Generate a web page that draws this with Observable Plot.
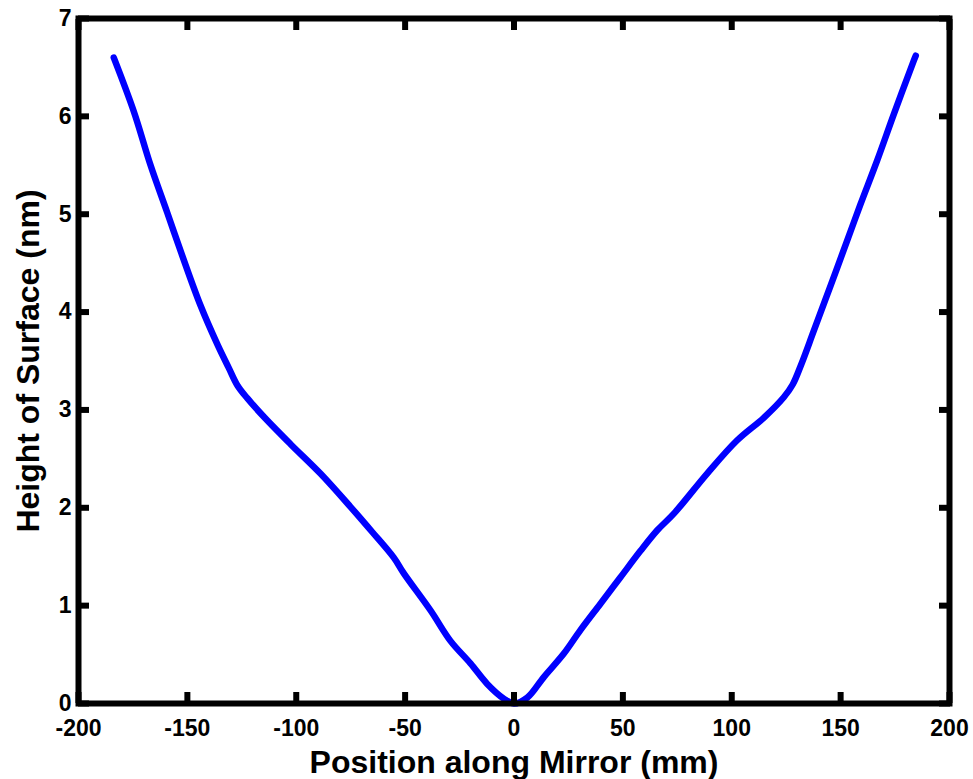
<!DOCTYPE html>
<html>
<head>
<meta charset="utf-8">
<script src="https://cdn.jsdelivr.net/npm/d3@7"></script>
<script src="https://cdn.jsdelivr.net/npm/@observablehq/plot@0.6"></script>
<style>
  html, body { margin: 0; padding: 0; background: #fff; }
  #chart svg { display: block; }
</style>
</head>
<body>
<div id="chart"></div>
<script>
// Position along mirror (mm)
const positions = [
  -183.8, -174.6, -166.9, -159.3, -152.4, -144.0, -136.0, -131.0, -127.0, -122.5, -114.9,
  -102.6, -88.9, -75.1, -65.0, -55.2, -50.6, -38.3, -29.2, -20.0, -12.3,
  -4.7, 0.0, 6.1, 13.7, 22.9, 30.5, 39.7, 48.9, 58.1, 65.8,
  73.4, 88.7, 102.5, 114.7, 123.9, 128.0, 132.0, 137.7, 145.4, 153.0, 159.1,
  166.8, 174.4, 183.6, 184.5
];
// Height of surface (nm)
const heights = [
  6.60, 6.05, 5.50, 5.02, 4.58, 4.07, 3.66, 3.43, 3.25, 3.12, 2.93,
  2.65, 2.35, 2.01, 1.75, 1.49, 1.33, 0.95, 0.64, 0.41, 0.20,
  0.05, 0.00, 0.06, 0.27, 0.51, 0.75, 1.02, 1.29, 1.56, 1.77,
  1.94, 2.35, 2.69, 2.92, 3.13, 3.26, 3.47, 3.81, 4.27, 4.73, 5.10,
  5.55, 6.02, 6.57, 6.62
];
const xTicks = [-200, -150, -100, -50, 0, 50, 100, 150, 200];
const xTickLabels = ["-200", "-150", "-100", "-50", "0", "50", "100", "150", "200"];
const yTicks = [0, 1, 2, 3, 4, 5, 6, 7];
const yTickLabels = ["0", "1", "2", "3", "4", "5", "6", "7"];
const xTitle = "Position along Mirror (mm)";
const yTitle = "Height of Surface (nm)";

const data = positions.map((x, i) => ({x, y: heights[i]}));

const tickLen = -11;
const chart = Plot.plot({
  width: 973,
  height: 779,
  marginLeft: 78,
  marginRight: 24,
  marginTop: 18,
  marginBottom: 76,
  style: {fontFamily: "'Liberation Sans', Arial, Helvetica, sans-serif", fontWeight: "bold", color: "black", background: "white"},
  x: {domain: [-200, 200]},
  y: {domain: [0, 7]},
  marks: [
    Plot.line(data, {x: "x", y: "y", stroke: "#0000ff", strokeWidth: 6.5, strokeLinejoin: "round", curve: "catmull-rom"}),
    Plot.frame({stroke: "black", strokeWidth: 6}),
    // inward ticks on all four sides
    Plot.axisX(xTicks, {anchor: "bottom", tickSize: tickLen, strokeWidth: 6, fill: "none", label: null}),
    Plot.axisX(xTicks, {anchor: "top", tickSize: tickLen, strokeWidth: 6, fill: "none", label: null}),
    Plot.axisY(yTicks, {anchor: "left", tickSize: tickLen, strokeWidth: 6, fill: "none", label: null}),
    Plot.axisY(yTicks, {anchor: "right", tickSize: tickLen, strokeWidth: 6, fill: "none", label: null}),
    // tick labels
    Plot.axisX(xTicks, {anchor: "bottom", tickSize: 0, tickPadding: 16, fontSize: 23, label: null,
      tickFormat: (d, i) => xTickLabels[i]}),
    Plot.axisY(yTicks, {anchor: "left", tickSize: 0, tickPadding: 7, fontSize: 23, label: null,
      tickFormat: (d, i) => yTickLabels[i]}),
    // axis titles
    Plot.text([xTitle], {frameAnchor: "bottom", dy: 59, text: d => d, fontSize: 32, textAnchor: "middle", lineAnchor: "middle", fill: "black"}),
    Plot.text([yTitle], {frameAnchor: "left", dx: -50, rotate: -90, text: d => d, fontSize: 32, textAnchor: "middle", lineAnchor: "middle", fill: "black"})
  ]
});
document.getElementById("chart").appendChild(chart);
</script>
</body>
</html>
